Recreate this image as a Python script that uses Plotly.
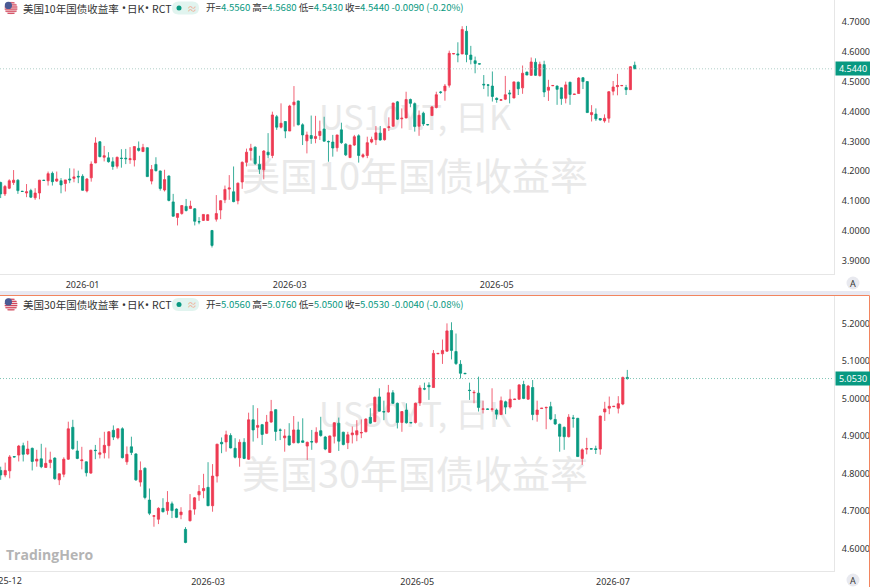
import plotly.graph_objects as go

W, H = 870, 587
UP = "#ee3a52"
DOWN = "#089981"
LABEL_FONT = "Noto Sans CJK SC"

# 10Y panel, daily bars
open_10y = [
    4.162, 4.124, 4.143, 4.162, 4.170, 4.133, 4.127, 4.135, 4.111, 4.127,
    4.170, 4.168, 4.193, 4.167, 4.168, 4.159, 4.174, 4.176, 4.183, 4.183,
    4.134, 4.178, 4.228, 4.299, 4.247, 4.245, 4.232, 4.217, 4.244, 4.244,
    4.239, 4.238, 4.277, 4.266, 4.279, 4.167, 4.223, 4.201, 4.137, 4.184,
    4.097, 4.045, 4.058, 4.082, 4.075, 4.074, 4.031, 4.035, 4.035, 4.001,
    4.039, 4.070, 4.104, 4.140, 4.131, 4.101, 4.164, 4.230, 4.270, 4.281,
    4.223, 4.205, 4.264, 4.253, 4.383, 4.348, 4.367, 4.335, 4.423, 4.436,
    4.356, 4.302, 4.320, 4.310, 4.320, 4.342, 4.300, 4.298, 4.279, 4.339,
    4.291, 4.246, 4.288, 4.319, 4.249, 4.253, 4.298, 4.306, 4.328, 4.306,
    4.347, 4.351, 4.433, 4.376, 4.379, 4.441, 4.427, 4.351, 4.395, 4.357,
    4.387, 4.414, 4.466, 4.470, 4.489, 4.594, 4.594, 4.594, 4.670, 4.590,
    4.571, 4.561, 4.492, 4.490, 4.486, 4.445, 4.438, 4.442, 4.463, 4.446,
    4.499, 4.480, 4.533, 4.522, 4.566, 4.521, 4.558, 4.472, 4.487, 4.486,
    4.480, 4.445, 4.499, 4.458, 4.461, 4.514, 4.501, 4.390, 4.392, 4.377,
    4.369, 4.378, 4.469, 4.484, 4.487, 4.481, 4.474, 4.556,
]
high_10y = [
    4.165, 4.154, 4.173, 4.204, 4.173, 4.134, 4.157, 4.141, 4.143, 4.171,
    4.171, 4.199, 4.199, 4.199, 4.177, 4.171, 4.210, 4.209, 4.202, 4.190,
    4.177, 4.233, 4.314, 4.301, 4.285, 4.264, 4.247, 4.249, 4.274, 4.275,
    4.281, 4.283, 4.300, 4.292, 4.280, 4.221, 4.247, 4.202, 4.205, 4.186,
    4.124, 4.058, 4.086, 4.107, 4.101, 4.076, 4.046, 4.056, 4.056, 4.003,
    4.120, 4.103, 4.152, 4.187, 4.216, 4.162, 4.233, 4.276, 4.292, 4.283,
    4.252, 4.271, 4.328, 4.400, 4.389, 4.428, 4.367, 4.423, 4.486, 4.437,
    4.361, 4.333, 4.387, 4.386, 4.370, 4.383, 4.303, 4.322, 4.322, 4.363,
    4.294, 4.288, 4.322, 4.324, 4.260, 4.316, 4.316, 4.352, 4.352, 4.344,
    4.381, 4.430, 4.436, 4.411, 4.467, 4.444, 4.431, 4.404, 4.400, 4.358,
    4.419, 4.467, 4.469, 4.493, 4.605, 4.597, 4.633, 4.687, 4.688, 4.621,
    4.585, 4.562, 4.523, 4.493, 4.535, 4.448, 4.441, 4.520, 4.473, 4.501,
    4.501, 4.555, 4.534, 4.582, 4.579, 4.568, 4.571, 4.507, 4.488, 4.488,
    4.481, 4.501, 4.500, 4.459, 4.516, 4.516, 4.502, 4.422, 4.411, 4.378,
    4.391, 4.469, 4.503, 4.527, 4.489, 4.490, 4.553, 4.568,
]
low_10y = [
    4.110, 4.117, 4.140, 4.154, 4.124, 4.131, 4.113, 4.110, 4.104, 4.106,
    4.168, 4.152, 4.152, 4.164, 4.126, 4.132, 4.160, 4.163, 4.160, 4.135,
    4.129, 4.165, 4.227, 4.247, 4.233, 4.229, 4.205, 4.209, 4.212, 4.224,
    4.225, 4.216, 4.266, 4.265, 4.181, 4.156, 4.199, 4.135, 4.132, 4.099,
    4.048, 4.018, 4.054, 4.065, 4.073, 4.018, 4.022, 4.033, 4.034, 3.944,
    4.031, 4.039, 4.093, 4.104, 4.096, 4.089, 4.141, 4.216, 4.236, 4.221,
    4.191, 4.173, 4.244, 4.244, 4.339, 4.344, 4.311, 4.335, 4.350, 4.354,
    4.288, 4.260, 4.292, 4.294, 4.305, 4.300, 4.232, 4.249, 4.266, 4.292,
    4.251, 4.244, 4.285, 4.229, 4.244, 4.244, 4.294, 4.288, 4.303, 4.303,
    4.335, 4.350, 4.372, 4.344, 4.378, 4.415, 4.333, 4.319, 4.352, 4.354,
    4.386, 4.411, 4.460, 4.437, 4.481, 4.593, 4.566, 4.593, 4.566, 4.559,
    4.529, 4.559, 4.476, 4.451, 4.434, 4.430, 4.437, 4.439, 4.428, 4.445,
    4.456, 4.460, 4.523, 4.520, 4.520, 4.518, 4.449, 4.436, 4.486, 4.423,
    4.423, 4.428, 4.423, 4.457, 4.460, 4.476, 4.396, 4.367, 4.369, 4.370,
    4.363, 4.363, 4.455, 4.455, 4.486, 4.456, 4.473, 4.543,
]
close_10y = [
    4.124, 4.149, 4.168, 4.170, 4.135, 4.132, 4.131, 4.113, 4.127, 4.170,
    4.169, 4.192, 4.165, 4.174, 4.154, 4.171, 4.171, 4.181, 4.181, 4.136,
    4.174, 4.224, 4.295, 4.249, 4.252, 4.232, 4.216, 4.247, 4.243, 4.242,
    4.242, 4.283, 4.270, 4.280, 4.182, 4.206, 4.202, 4.142, 4.172, 4.102,
    4.049, 4.058, 4.085, 4.068, 4.083, 4.032, 4.030, 4.055, 4.054, 3.951,
    4.058, 4.101, 4.139, 4.144, 4.098, 4.160, 4.230, 4.264, 4.277, 4.226,
    4.207, 4.268, 4.255, 4.389, 4.348, 4.361, 4.335, 4.419, 4.432, 4.356,
    4.322, 4.322, 4.310, 4.317, 4.334, 4.301, 4.299, 4.278, 4.322, 4.296,
    4.255, 4.288, 4.316, 4.253, 4.255, 4.296, 4.307, 4.329, 4.305, 4.343,
    4.349, 4.429, 4.375, 4.378, 4.441, 4.428, 4.350, 4.388, 4.359, 4.356,
    4.416, 4.457, 4.465, 4.486, 4.596, 4.595, 4.591, 4.676, 4.592, 4.575,
    4.562, 4.560, 4.490, 4.489, 4.451, 4.441, 4.440, 4.457, 4.460, 4.500,
    4.477, 4.529, 4.523, 4.567, 4.522, 4.559, 4.466, 4.482, 4.488, 4.475,
    4.444, 4.490, 4.458, 4.459, 4.513, 4.501, 4.397, 4.397, 4.376, 4.372,
    4.378, 4.467, 4.483, 4.488, 4.488, 4.474, 4.551, 4.544,
]

# 30Y panel
open_30y = [
    4.808, 4.796, 4.807, 4.845, 4.849, 4.874, 4.852, 4.867, 4.833, 4.839,
    4.816, 4.829, 4.841, 4.783, 4.798, 4.838, 4.923, 4.860, 4.834, 4.831,
    4.801, 4.862, 4.851, 4.855, 4.874, 4.915, 4.895, 4.919, 4.831, 4.871,
    4.852, 4.777, 4.814, 4.729, 4.686, 4.678, 4.707, 4.701, 4.719, 4.705,
    4.690, 4.651, 4.674, 4.705, 4.743, 4.754, 4.763, 4.714, 4.793, 4.883,
    4.884, 4.901, 4.867, 4.842, 4.883, 4.838, 4.943, 4.923, 4.930, 4.907,
    4.937, 4.970, 4.916, 4.895, 4.900, 4.882, 4.916, 4.887, 4.873, 4.885,
    4.883, 4.914, 4.897, 4.856, 4.899, 4.934, 4.910, 4.882, 4.903, 4.903,
    4.908, 4.911, 4.950, 4.938, 5.004, 4.965, 4.964, 5.015, 4.987, 4.936,
    4.969, 4.936, 4.936, 4.988, 5.026, 5.035, 5.029, 5.119, 5.119, 5.126,
    5.181, 5.125, 5.091, 5.067, 5.022, 5.015, 5.014, 4.971, 4.972, 4.971,
    4.969, 4.957, 4.991, 4.977, 4.997, 4.998, 5.037, 4.998, 5.029, 4.957,
    4.973, 4.975, 4.978, 4.944, 4.931, 4.923, 4.898, 4.948, 4.947, 4.840,
    4.865, 4.866, 4.866, 4.865, 4.964, 4.974, 4.978, 4.974, 4.985, 5.056,
]
high_30y = [
    4.818, 4.829, 4.849, 4.845, 4.876, 4.882, 4.887, 4.869, 4.863, 4.879,
    4.869, 4.858, 4.843, 4.800, 4.843, 4.938, 4.943, 4.887, 4.871, 4.832,
    4.863, 4.876, 4.895, 4.911, 4.913, 4.928, 4.920, 4.923, 4.872, 4.898,
    4.854, 4.832, 4.816, 4.760, 4.689, 4.710, 4.734, 4.753, 4.725, 4.707,
    4.710, 4.657, 4.745, 4.737, 4.769, 4.799, 4.830, 4.825, 4.879, 4.896,
    4.914, 4.907, 4.894, 4.891, 4.894, 4.962, 4.982, 4.974, 4.932, 4.956,
    4.996, 4.971, 4.920, 4.918, 4.934, 4.953, 4.938, 4.947, 4.885, 4.916,
    4.923, 4.951, 4.900, 4.901, 4.937, 4.949, 4.911, 4.911, 4.925, 4.942,
    4.944, 4.947, 4.974, 5.005, 5.027, 4.994, 5.036, 5.022, 4.989, 4.966,
    4.987, 4.937, 4.989, 5.035, 5.042, 5.043, 5.129, 5.120, 5.157, 5.200,
    5.203, 5.173, 5.102, 5.068, 5.042, 5.022, 5.058, 4.994, 4.973, 5.027,
    4.973, 5.005, 4.994, 5.024, 4.999, 5.038, 5.047, 5.036, 5.049, 4.994,
    4.974, 4.978, 4.991, 4.958, 4.933, 4.925, 4.958, 4.956, 4.948, 4.867,
    4.895, 4.867, 4.874, 4.954, 4.991, 5.005, 4.979, 5.006, 5.058, 5.076,
]
low_30y = [
    4.783, 4.790, 4.787, 4.843, 4.832, 4.832, 4.849, 4.808, 4.818, 4.814,
    4.815, 4.814, 4.783, 4.769, 4.790, 4.836, 4.863, 4.838, 4.811, 4.792,
    4.799, 4.838, 4.840, 4.840, 4.840, 4.889, 4.891, 4.840, 4.823, 4.849,
    4.780, 4.765, 4.731, 4.689, 4.658, 4.665, 4.696, 4.690, 4.681, 4.681,
    4.678, 4.614, 4.672, 4.690, 4.727, 4.734, 4.713, 4.698, 4.776, 4.854,
    4.858, 4.867, 4.840, 4.818, 4.838, 4.836, 4.885, 4.894, 4.876, 4.905,
    4.935, 4.887, 4.889, 4.858, 4.874, 4.880, 4.880, 4.882, 4.836, 4.863,
    4.880, 4.898, 4.862, 4.855, 4.880, 4.860, 4.875, 4.865, 4.880, 4.886,
    4.894, 4.910, 4.932, 4.937, 4.965, 4.942, 4.962, 4.985, 4.920, 4.911,
    4.933, 4.934, 4.933, 4.980, 5.022, 4.996, 5.029, 5.118, 5.092, 5.124,
    5.104, 5.089, 5.053, 5.065, 4.996, 4.987, 4.965, 4.960, 4.971, 4.965,
    4.944, 4.956, 4.958, 4.973, 4.996, 4.996, 4.998, 4.996, 4.942, 4.938,
    4.972, 4.918, 4.942, 4.929, 4.858, 4.863, 4.896, 4.922, 4.844, 4.823,
    4.851, 4.865, 4.852, 4.850, 4.940, 4.958, 4.977, 4.960, 4.982, 5.050,
]
close_30y = [
    4.796, 4.808, 4.844, 4.844, 4.873, 4.851, 4.865, 4.832, 4.838, 4.818,
    4.827, 4.836, 4.786, 4.799, 4.838, 4.919, 4.866, 4.840, 4.836, 4.802,
    4.862, 4.861, 4.855, 4.875, 4.911, 4.897, 4.919, 4.842, 4.851, 4.856,
    4.783, 4.808, 4.736, 4.694, 4.687, 4.707, 4.698, 4.723, 4.701, 4.683,
    4.697, 4.616, 4.701, 4.735, 4.752, 4.760, 4.714, 4.793, 4.878, 4.879,
    4.903, 4.868, 4.843, 4.883, 4.840, 4.943, 4.916, 4.928, 4.904, 4.937,
    4.965, 4.912, 4.915, 4.900, 4.876, 4.916, 4.882, 4.883, 4.883, 4.884,
    4.910, 4.901, 4.865, 4.900, 4.935, 4.886, 4.877, 4.903, 4.908, 4.914,
    4.909, 4.945, 4.934, 5.003, 4.966, 4.964, 5.015, 4.987, 4.936, 4.965,
    4.935, 4.935, 4.987, 5.028, 5.025, 5.031, 5.120, 5.120, 5.128, 5.180,
    5.128, 5.093, 5.067, 5.066, 5.021, 5.016, 4.976, 4.972, 4.971, 4.972,
    4.958, 4.994, 4.977, 4.998, 4.998, 5.036, 5.000, 5.033, 4.957, 4.969,
    4.974, 4.976, 4.945, 4.932, 4.899, 4.898, 4.950, 4.947, 4.845, 4.863,
    4.866, 4.865, 4.864, 4.953, 4.972, 4.979, 4.979, 4.986, 5.056, 5.053,
]

price_ticks_10y = [3.9, 4.0, 4.1, 4.2, 4.3, 4.4, 4.5, 4.6, 4.7]
price_ticks_30y = [4.6, 4.7, 4.8, 4.9, 5.0, 5.1, 5.2]
date_ticks_10y = [19, 67, 115]
date_labels_10y = ["2026-01", "2026-03", "2026-05"]
date_ticks_30y = [46, 92.4, 135.8]
date_labels_30y = ["2026-03", "2026-05", "2026-07"]
cut_date_label_30y = "2025-12"  # sits half off the left edge

title_10y = "美国10年国债收益率"
title_30y = "美国30年国债收益率"
title_bits = ["•", "日K", "•", "RCT"]
ohlc_10y = ["4.5560", "4.5680", "4.5430", "4.5440", "-0.0090 (-0.20%)"]
ohlc_30y = ["5.0560", "5.0760", "5.0500", "5.0530", "-0.0040 (-0.08%)"]


# everything outside the plot is placed in screen pixels
def px(x):
    return x / W


def py(y):
    return 1 - y / H


def candle(op, hi, lo, cl, xaxis, yaxis):
    return go.Candlestick(
        x=list(range(len(op))),
        open=op,
        high=hi,
        low=lo,
        close=cl,
        xaxis=xaxis,
        yaxis=yaxis,
        increasing=dict(line=dict(color=UP, width=0.8), fillcolor=UP),
        decreasing=dict(line=dict(color=DOWN, width=0.8), fillcolor=DOWN),
        whiskerwidth=0,
        showlegend=False,
        hoverinfo="skip",
    )


def pill(x0, x1, y0, y1):
    r = (y1 - y0) / 2
    path = (
        f"M {px(x0 + r)} {py(y0)} L {px(x1 - r)} {py(y0)} Q {px(x1)} {py(y0)} {px(x1)} {py(y0 + r)} "
        f"Q {px(x1)} {py(y1)} {px(x1 - r)} {py(y1)} L {px(x0 + r)} {py(y1)} "
        f"Q {px(x0)} {py(y1)} {px(x0)} {py(y0 + r)} Q {px(x0)} {py(y0)} {px(x0 + r)} {py(y0)} Z"
    )
    return dict(type="path", xref="paper", yref="paper", path=path, fillcolor="#e1f4ef", line_width=0)


def circle(cx, cy, r, color):
    return dict(
        type="circle", xref="paper", yref="paper",
        x0=px(cx - r), x1=px(cx + r), y0=py(cy + r), y1=py(cy - r),
        fillcolor=color, line_width=0,
    )


def box(x0, x1, y0, y1, color):
    return dict(
        type="rect", xref="paper", yref="paper",
        x0=px(x0), x1=px(x1), y0=py(y1), y1=py(y0),
        fillcolor=color, line_width=0,
    )


def flag(cx, cy):
    # small round US flag
    items = [circle(cx, cy, 6.5, "#f4e3e5")]
    half_widths = [3.5, 5.6, 6.3, 6.3, 5.6, 3.5]
    for i, hw in enumerate(half_widths):
        yy = cy - 5.2 + i * 2.1
        items.append(box(cx - hw, cx + hw, yy - 0.6, yy + 0.6, "#d4475c"))
    items.append(circle(cx - 2.6, cy - 2.6, 3.6, "#4a5a94"))
    return items


def watermark(text, y, size):
    # label on an empty rect, so that it stays under the candles
    return dict(
        type="rect", xref="paper", yref="paper", layer="below",
        x0=px(215), x1=px(615), y0=py(y + 25), y1=py(y - 25),
        line_width=0, fillcolor="rgba(0,0,0,0)",
        label=dict(text=text, textposition="middle center", font=dict(family=LABEL_FONT, size=size, color="#e9e9e9")),
    )


def text_note(x, y, text, size=9.5, color="#333333", anchor="left", family=LABEL_FONT, **kw):
    return dict(
        xref="paper", yref="paper", x=px(x), y=py(y), text=text, showarrow=False,
        xanchor=anchor, yanchor="middle", font=dict(family=family, size=size, color=color), **kw,
    )


def ohlc_text(vals):
    num = lambda s: f'<span style="color:{DOWN}">{s}</span>'
    return (
        f"开={num(vals[0])} 高={num(vals[1])} 低={num(vals[2])} 收={num(vals[3])} {num(vals[4])}"
    )


fig = go.Figure()
fig.add_trace(candle(open_10y, high_10y, low_10y, close_10y, "x", "y"))
fig.add_trace(candle(open_30y, high_30y, low_30y, close_30y, "x2", "y2"))

axis_font = dict(family="Noto Sans", size=9, color="#333333")
x_common = dict(
    showgrid=False, zeroline=False, showline=True, linecolor="#e6e6e6", linewidth=1,
    ticks="", tickmode="array", tickfont=axis_font, rangeslider=dict(visible=False), fixedrange=True,
    ticklabelstandoff=2,
)
y_common = dict(
    showgrid=False, zeroline=False, showline=True, linecolor="#e6e6e6", linewidth=1,
    side="right", ticks="", tickmode="array", tickformat=".4f", tickfont=axis_font,
    ticklabelstandoff=5, fixedrange=True,
)

fig.update_layout(
    width=W,
    height=H,
    margin=dict(l=0, r=0, t=0, b=0),
    paper_bgcolor="white",
    plot_bgcolor="rgba(0,0,0,0)",
    showlegend=False,
    xaxis=dict(
        x_common, domain=[0, px(834)], anchor="y", range=[-0.15, 193.2],
        tickvals=date_ticks_10y, ticktext=date_labels_10y,
    ),
    yaxis=dict(
        y_common, domain=[py(274), 1], anchor="x", range=[3.855, 4.775], tickvals=price_ticks_10y,
    ),
    xaxis2=dict(
        x_common, domain=[0, px(834)], anchor="y2", range=[-0.15, 184.85],
        tickvals=date_ticks_30y, ticktext=date_labels_30y,
    ),
    yaxis2=dict(
        y_common, domain=[py(571), py(296)], anchor="x2", range=[4.540, 5.273], tickvals=price_ticks_30y,
    ),
)


def frame_line(x0, y0, x1, y1):
    return dict(
        type="line", xref="paper", yref="paper", x0=px(x0), y0=py(y0), x1=px(x1), y1=py(y1),
        line=dict(color="#f2855f", width=1),
    )


shapes = [
    watermark("US10Y.T, 日K", 120, 34),
    watermark("美国10年国债收益率", 179, 38),
    watermark("US30Y.T, 日K", 417, 34),
    watermark("美国30年国债收益率", 477, 38),
    # strip between the panels and the frame of the active one
    box(0, W, 291, 295, "#e9e9f2"),
    frame_line(0, 295.5, 869.5, 295.5),
    frame_line(869.5, 295.5, 869.5, 587),
    # last price lines
    dict(
        type="line", xref="x domain", yref="y", x0=0, x1=1, y0=close_10y[-1], y1=close_10y[-1],
        line=dict(color="#9cc4ba", width=0.8, dash="1px,2px"),
    ),
    dict(
        type="line", xref="x2 domain", yref="y2", x0=0, x1=1, y0=close_30y[-1], y1=close_30y[-1],
        line=dict(color="#5fb5a2", width=0.8, dash="1px,2px"),
    ),
    circle(853, 283, 6.5, "#e8e9ef"),
    circle(853, 580, 6.5, "#e8e9ef"),
]
for cy in (8, 304.5):
    shapes += flag(11, cy)
    shapes.append(pill(172, 199, cy - 6.5, cy + 6.5))
    shapes.append(circle(179, cy, 2.5, DOWN))

annotations = [
    text_note(21, 8, title_10y, size=10.5),
    text_note(21, 304.5, title_30y, size=10.5),
    text_note(192, 8, "≈", size=10, color="#eeb39a", anchor="center"),
    text_note(192, 304.5, "≈", size=10, color="#eeb39a", anchor="center"),
    text_note(204, 7, ohlc_text(ohlc_10y), size=9.6),
    text_note(204, 303.5, ohlc_text(ohlc_30y), size=9.6),
    text_note(853, 283, "A", size=9, color="#333333", anchor="center", family="Noto Sans"),
    text_note(853, 580, "A", size=9, color="#333333", anchor="center", family="Noto Sans"),
    text_note(4, 554, "<b>TradingHero</b>", size=14, color="#b4b4b4", family="Open Sans"),
    text_note(5, 580, cut_date_label_30y, size=9, anchor="center", family="Noto Sans"),
    # price tags on the axis
    dict(
        xref="paper", yref="y", x=px(835), y=close_10y[-1], xanchor="left", yanchor="middle",
        text=f"{close_10y[-1]:.4f}", showarrow=False, bgcolor=DOWN, width=34, height=13, borderpad=0,
        font=dict(family="Noto Sans", size=9, color="white"),
    ),
    dict(
        xref="paper", yref="y2", x=px(835), y=close_30y[-1], xanchor="left", yanchor="middle",
        text=f"{close_30y[-1]:.4f}", showarrow=False, bgcolor=DOWN, width=34, height=13, borderpad=0,
        font=dict(family="Noto Sans", size=9, color="white"),
    ),
]
# rest of the legend title, each part at its own spot
for x_bit, bit in zip([120, 125, 143, 150], title_bits):
    fam = "Noto Sans" if bit == "•" else LABEL_FONT
    annotations.append(text_note(x_bit, 8, bit, size=10.5, family=fam))
    annotations.append(text_note(x_bit, 304.5, bit, size=10.5, family=fam))
fig.update_layout(shapes=shapes, annotations=annotations)

fig.write_html(
    "out.html",
    config={"displayModeBar": False},
    post_script="document.body.style.margin='0';",
)
